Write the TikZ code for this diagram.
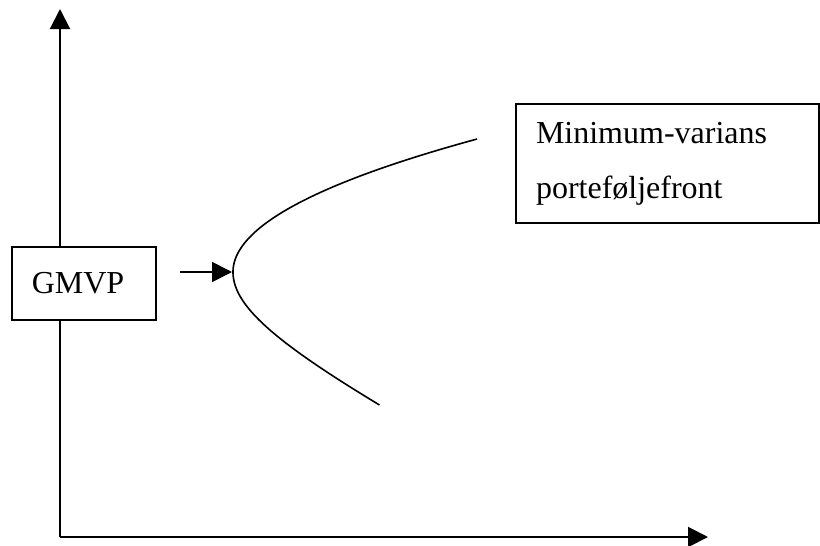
\documentclass[tikz,border=0pt]{standalone}
\usepackage{fontspec}
\setmainfont{Liberation Serif}
\usetikzlibrary{arrows.meta}
\tikzset{
  axisline/.style={line width=1pt,-{Triangle[length=10pt,width=10pt]}},
  ptr/.style={line width=0.9pt,-{Triangle[length=10pt,width=10pt]}},
  labelbox/.style={draw,line width=1pt,fill=white,font=\fontsize{16}{27.5}\selectfont},
  frontier/.style={line width=0.8pt}
}
\begin{document}
\begin{tikzpicture}[x=0.5pt,y=-0.5pt]
\useasboundingbox (0,0) rectangle (820,546);
\coordinate (origin) at (60,537);
\coordinate (ytop) at (60,9);
\coordinate (xend) at (708,537);
\draw[axisline] (origin) -- (ytop);
\draw[axisline] (origin) -- (xend);
\node[labelbox,minimum width=72pt,minimum height=36.5pt,inner sep=0pt] (gmvp) at (84,283.5) {\hspace*{-6pt}GMVP};
\node[labelbox,minimum width=151.5pt,minimum height=59.5pt,text width=131.5pt,align=left,inner xsep=10pt,inner ysep=0pt] (front) at (667.5,163.5) {Minimum-varians\\porteføljefront};
\coordinate (vertex) at (232,272);
\coordinate (astart) at (180,272);
\draw[ptr] (astart) -- (vertex);
\draw[frontier] plot[domain=-1.33:0,samples=90,variable=\t] ({233+138*(\t)*(\t)},{272+100*(\t)});
\draw[frontier] plot[domain=0:1.33,samples=90,variable=\t] ({83+150*sqrt(1+((\t)/0.78)*((\t)/0.78))},{272+100*(\t)});
\end{tikzpicture}
\end{document}
